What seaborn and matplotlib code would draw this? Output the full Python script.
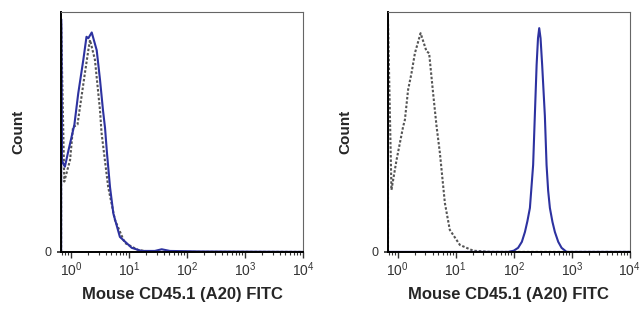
import numpy as np
import pandas as pd
import seaborn as sns
import matplotlib.pyplot as plt
from matplotlib.ticker import LogLocator, FixedLocator

# values (x = FITC intensity, y = % of max)
left_iso_x = [0.68, 0.68, 0.77, 0.97, 1.09, 1.3, 1.75, 2.0, 2.14, 2.6, 3.18, 3.38, 4.4, 5.75, 8.5, 14.4, 25, 10000]
left_iso_y = [0, 95, 29.3, 38.3, 52, 53, 74.6, 84, 88.3, 80, 59, 49.6, 27, 13.3, 3.75, 0.8, 0, 0]

left_cd45_x = [0.68, 0.68, 0.70, 0.79, 0.90, 1.15, 1.34, 1.64, 1.86, 2.0, 2.29, 2.79, 3.18,
               3.58, 3.88, 4.2, 4.73, 5.4, 7.0, 11.2, 16.6, 28, 36.8, 51, 170, 10000]
left_cd45_y = [0, 97, 38, 35.5, 41.8, 53, 66, 80, 89.6, 89, 91.4, 84, 71.7,
               59, 51.7, 41, 27, 16, 6.25, 1.7, 0.4, 0.4, 1.1, 0.4, 0.2, 0]

right_iso_x = [0.68, 0.68, 0.78, 0.955, 1.24, 1.33, 1.51, 1.73, 1.98, 2.48, 3.14, 3.48, 4.08,
               4.68, 5.33, 6.5, 7.9, 11.8, 20, 40, 10000]
right_iso_y = [0, 96.7, 25.8, 38.3, 52.2, 55, 67.5, 74.5, 82.8, 91.1, 83.5, 82.8, 66,
               52.2, 41.3, 20.4, 9.2, 2.9, 0.5, 0, 0]

right_cd45_x = [0.68, 80, 100, 119, 138, 156, 172, 190, 216, 231, 248, 262, 275,
                290, 309, 344, 368, 392, 420, 465, 512, 585, 668, 815, 10000]
right_cd45_y = [0, 0, 0.5, 1.7, 4.2, 8.3, 12.8, 18.3, 36.2, 56.7, 77.9, 89, 93.2,
                89, 77.9, 56.7, 36.2, 25.5, 18.3, 12.5, 8.3, 4.2, 1.7, 0, 0]

decades = [1, 10, 100, 1000, 10000]


def make_frame(iso_x, iso_y, cd_x, cd_y):
    a = pd.DataFrame({"FITC": iso_x, "Count": iso_y, "sample": "isotype"})
    b = pd.DataFrame({"FITC": cd_x, "Count": cd_y, "sample": "CD45.1"})
    return pd.concat([a, b], ignore_index=True)


panels = [make_frame(left_iso_x, left_iso_y, left_cd45_x, left_cd45_y),
          make_frame(right_iso_x, right_iso_y, right_cd45_x, right_cd45_y)]

sns.set_theme(style="white")
plt.rcParams['font.family'] = ['Liberation Sans', 'DejaVu Sans']

fig = plt.figure(figsize=(6.4, 3.11), dpi=100)
axes = [fig.add_axes([0.0953, 0.19, 0.378, 0.772]),
        fig.add_axes([0.606, 0.19, 0.378, 0.772])]

for ax, df in zip(axes, panels):
    sns.lineplot(data=df, x="FITC", y="Count", hue="sample", style="sample",
                 hue_order=["isotype", "CD45.1"], style_order=["isotype", "CD45.1"],
                 palette={"isotype": "#555555", "CD45.1": "#2d32a0"},
                 dashes={"isotype": (1.2, 0.9), "CD45.1": ""},
                 estimator=None, sort=False, legend=False, linewidth=1.5, ax=ax)
    ax.set_xscale("log")
    ax.set_xlim(0.676, 10000)
    ax.set_ylim(0, 100)
    ax.xaxis.set_major_locator(FixedLocator(decades))
    ax.xaxis.set_minor_locator(LogLocator(base=10, subs=np.arange(2, 10), numticks=20))
    ax.set_yticks([0])
    ax.set_yticklabels(["0"])
    ax.tick_params(axis="x", which="major", direction="out", length=4, width=1,
                   labelsize=10, colors="#333333", pad=2, bottom=True)
    ax.tick_params(axis="x", which="minor", direction="out", length=2, width=0.8,
                   colors="#333333", bottom=True)
    ax.tick_params(axis="y", direction="out", length=3, labelsize=9,
                   colors="#333333", left=True)
    for side in ["left", "bottom"]:
        ax.spines[side].set_color("black")
        ax.spines[side].set_linewidth(1.4)
    for side in ["top", "right"]:
        ax.spines[side].set_color("#666666")
        ax.spines[side].set_linewidth(0.8)
    ax.set_xlabel("Mouse CD45.1 (A20) FITC", fontsize=12, fontweight="bold", labelpad=6)
    ax.set_ylabel("Count", fontsize=11, fontweight="bold", labelpad=14)

fig.savefig("out.png", dpi=100)
